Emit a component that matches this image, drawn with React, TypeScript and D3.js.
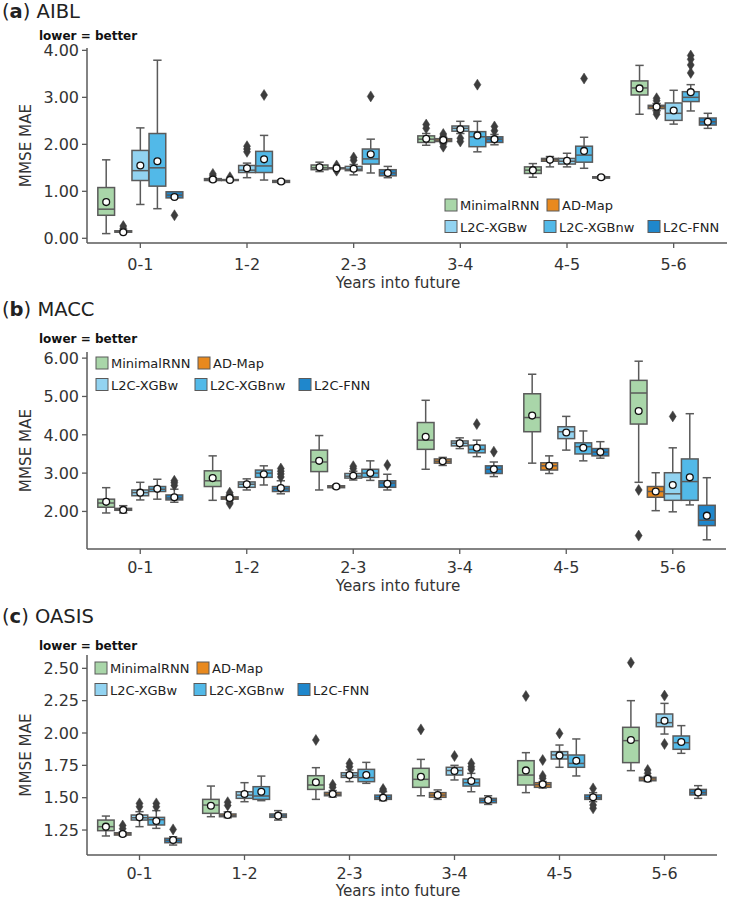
import React from "react";
import * as d3 from "d3";

// ---------- data ----------
const categories = ["0-1", "1-2", "2-3", "3-4", "4-5", "5-6"];
const methods = ["MinimalRNN", "AD-Map", "L2C-XGBw", "L2C-XGBnw", "L2C-FNN"];
const methodColors = ["#a9d6a9", "#e8891e", "#92d3f1", "#52b9e8", "#1f87cc"];

// each box: [whiskerLow, q1, median, q3, whiskerHigh, mean]
// ---- (a) AIBL ----
const aiblMinimalRNN = [[0.10, 0.49, 0.62, 1.08, 1.67, 0.77], [1.21, 1.23, 1.25, 1.27, 1.29, 1.25], [1.42, 1.46, 1.50, 1.56, 1.62, 1.51], [1.98, 2.04, 2.11, 2.18, 2.23, 2.12], [1.30, 1.38, 1.45, 1.52, 1.59, 1.45], [2.64, 3.05, 3.20, 3.35, 3.68, 3.19]];
const aiblADMap = [[0.12, 0.13, 0.14, 0.16, 0.17, 0.13], [1.22, 1.23, 1.24, 1.25, 1.26, 1.24], [1.47, 1.48, 1.49, 1.50, 1.51, 1.49], [2.04, 2.06, 2.09, 2.12, 2.14, 2.09], [1.52, 1.64, 1.67, 1.70, 1.74, 1.67], [2.72, 2.76, 2.80, 2.83, 2.87, 2.80]];
const aiblXGBw = [[0.72, 1.23, 1.44, 1.87, 2.35, 1.55], [1.29, 1.40, 1.45, 1.55, 1.60, 1.49], [1.35, 1.44, 1.47, 1.53, 1.57, 1.48], [2.23, 2.28, 2.34, 2.39, 2.49, 2.32], [1.52, 1.58, 1.64, 1.70, 1.81, 1.65], [2.43, 2.51, 2.66, 2.88, 3.15, 2.72]];
const aiblXGBnw = [[0.63, 1.11, 1.50, 2.23, 3.79, 1.64], [1.24, 1.40, 1.54, 1.85, 2.19, 1.68], [1.39, 1.58, 1.69, 1.90, 2.11, 1.79], [1.84, 1.95, 2.16, 2.27, 2.49, 2.19], [1.49, 1.62, 1.77, 1.96, 2.15, 1.86], [2.71, 2.91, 3.00, 3.12, 3.27, 3.11]];
const aiblFNN = [[0.86, 0.86, 0.92, 0.99, 0.99, 0.88], [1.17, 1.19, 1.21, 1.23, 1.24, 1.21], [1.29, 1.33, 1.39, 1.46, 1.53, 1.39], [1.99, 2.04, 2.11, 2.16, 2.21, 2.11], [1.26, 1.28, 1.30, 1.31, 1.33, 1.30], [2.34, 2.41, 2.48, 2.56, 2.66, 2.48]];
const aiblOutMinimalRNN = [[], [1.33, 1.37], [], [2.34, 2.42], [], []];
const aiblOutADMap = [[0.21, 0.26], [1.30], [1.44, 1.55], [1.95, 2.01, 2.17, 2.22], [], [2.64, 2.69, 2.93, 2.98]];
const aiblOutXGBw = [[], [1.84, 1.90, 1.96], [1.66, 1.72], [2.06, 2.13], [], []];
const aiblOutXGBnw = [[], [3.05], [3.02], [3.27], [3.40], [3.52, 3.69, 3.81, 3.89]];
const aiblOutFNN = [[0.49], [], [], [2.29, 2.38], [], []];

// ---- (b) MACC ----
const maccMinimalRNN = [[1.96, 2.11, 2.22, 2.32, 2.62, 2.25], [2.29, 2.65, 2.80, 3.06, 3.45, 2.87], [2.56, 3.04, 3.29, 3.60, 3.98, 3.32], [3.10, 3.62, 3.86, 4.32, 4.90, 3.95], [3.26, 4.08, 4.45, 5.07, 5.58, 4.50], [2.76, 4.28, 5.09, 5.42, 5.92, 4.62]];
const maccADMap = [[1.96, 2.03, 2.05, 2.08, 2.15, 2.04], [2.30, 2.32, 2.35, 2.38, 2.40, 2.35], [2.60, 2.62, 2.64, 2.67, 2.69, 2.65], [3.20, 3.26, 3.31, 3.37, 3.41, 3.31], [2.99, 3.08, 3.19, 3.27, 3.45, 3.19], [2.02, 2.37, 2.52, 2.65, 3.01, 2.52]];
const maccXGBw = [[2.30, 2.41, 2.49, 2.56, 2.76, 2.49], [2.56, 2.63, 2.71, 2.77, 2.85, 2.71], [2.82, 2.87, 2.92, 2.99, 3.05, 2.93], [3.64, 3.71, 3.78, 3.84, 3.92, 3.78], [3.60, 3.90, 4.08, 4.21, 4.48, 4.06], [1.99, 2.29, 2.46, 3.01, 3.66, 2.69]];
const maccXGBnw = [[2.32, 2.52, 2.58, 2.65, 2.84, 2.59], [2.69, 2.89, 3.00, 3.08, 3.19, 2.97], [2.81, 2.89, 3.00, 3.10, 3.32, 3.00], [3.43, 3.53, 3.62, 3.73, 3.86, 3.66], [3.32, 3.50, 3.69, 3.79, 4.10, 3.66], [2.17, 2.29, 2.78, 3.37, 4.55, 2.89]];
const maccFNN = [[2.24, 2.30, 2.35, 2.43, 2.58, 2.37], [2.46, 2.52, 2.59, 2.65, 2.80, 2.61], [2.56, 2.63, 2.74, 2.80, 2.97, 2.72], [2.91, 2.99, 3.10, 3.19, 3.29, 3.10], [3.39, 3.45, 3.55, 3.64, 3.82, 3.55], [1.26, 1.63, 1.77, 2.16, 2.88, 1.89]];
const maccOutMinimalRNN = [[], [], [], [], [], [2.56, 1.37]];
const maccOutADMap = [[], [2.20, 2.24, 2.44, 2.49], [], [], [], []];
const maccOutXGBw = [[], [], [3.12, 3.18], [], [], [4.48]];
const maccOutXGBnw = [[], [], [], [4.28], [], []];
const maccOutFNN = [[2.68, 2.75, 2.80], [2.90, 2.98, 3.05, 3.12], [3.21], [3.56], [], []];

// ---- (c) OASIS ----
const oasisMinimalRNN = [[1.204, 1.245, 1.276, 1.327, 1.358, 1.276], [1.353, 1.379, 1.443, 1.487, 1.590, 1.438], [1.487, 1.564, 1.598, 1.670, 1.732, 1.619], [1.515, 1.580, 1.642, 1.727, 1.796, 1.662], [1.539, 1.598, 1.675, 1.786, 1.848, 1.711], [1.709, 1.771, 1.941, 2.044, 2.250, 1.946]];
const oasisADMap = [[1.205, 1.211, 1.220, 1.229, 1.235, 1.219], [1.345, 1.353, 1.363, 1.374, 1.390, 1.366], [1.505, 1.515, 1.527, 1.541, 1.555, 1.528], [1.487, 1.503, 1.520, 1.539, 1.560, 1.521], [1.575, 1.580, 1.600, 1.616, 1.625, 1.603], [1.625, 1.631, 1.645, 1.657, 1.665, 1.647]];
const oasisXGBw = [[1.276, 1.327, 1.345, 1.366, 1.392, 1.348], [1.469, 1.495, 1.520, 1.546, 1.616, 1.528], [1.624, 1.657, 1.672, 1.693, 1.714, 1.675], [1.637, 1.675, 1.710, 1.735, 1.750, 1.706], [1.735, 1.799, 1.830, 1.856, 1.907, 1.827], [1.992, 2.049, 2.080, 2.147, 2.229, 2.095]];
const oasisXGBnw = [[1.263, 1.289, 1.330, 1.348, 1.400, 1.320], [1.477, 1.487, 1.513, 1.585, 1.667, 1.546], [1.611, 1.624, 1.655, 1.719, 1.773, 1.675], [1.546, 1.590, 1.616, 1.644, 1.688, 1.629], [1.668, 1.735, 1.765, 1.830, 1.954, 1.786], [1.843, 1.874, 1.925, 1.977, 2.057, 1.930]];
const oasisFNN = [[1.134, 1.152, 1.170, 1.186, 1.198, 1.173], [1.327, 1.348, 1.360, 1.374, 1.400, 1.361], [1.477, 1.487, 1.500, 1.520, 1.546, 1.500], [1.448, 1.461, 1.480, 1.495, 1.515, 1.482], [1.469, 1.487, 1.500, 1.521, 1.539, 1.503], [1.495, 1.521, 1.540, 1.564, 1.593, 1.541]];
const oasisOutMinimalRNN = [[], [], [1.946], [2.028], [2.286], [2.544]];
const oasisOutADMap = [[1.26, 1.285], [1.44, 1.465], [1.58, 1.60], [], [1.65, 1.668, 1.791], [1.688, 1.714]];
const oasisOutXGBw = [[1.43, 1.456], [], [1.74, 1.765], [1.822], [1.997], [1.915, 2.289]];
const oasisOutXGBnw = [[1.43, 1.456], [], [], [1.72, 1.74, 1.765], [], []];
const oasisOutFNN = [[1.255], [], [1.555, 1.567], [], [1.418, 1.443, 1.572], []];

const aiblTicks = [0, 1, 2, 3, 4];
const maccTicks = [2, 3, 4, 5, 6];
const oasisTicks = [1.25, 1.5, 1.75, 2.0, 2.25, 2.5];

// ---------- layout ----------
const FONT = "'DejaVu Sans', sans-serif";
const LINE = "#5a5a5a";

type PanelCfg = {
  letter: string;
  name: string;
  boxes: number[][][];
  outliers: number[][][];
  ticks: number[];
  domain: [number, number];
  top: number;
  bottom: number;
  left: number;
  right: number;
  titleY: number;
  noteY: number;
  tickLabelY: number;
  xLabelY: number;
  legendX: number;
  legendY: number;
};

const panels: PanelCfg[] = [
  {
    letter: "a", name: "AIBL",
    boxes: [aiblMinimalRNN, aiblADMap, aiblXGBw, aiblXGBnw, aiblFNN],
    outliers: [aiblOutMinimalRNN, aiblOutADMap, aiblOutXGBw, aiblOutXGBnw, aiblOutFNN],
    ticks: aiblTicks, domain: [-0.1, 4.05],
    top: 48, bottom: 243, left: 87, right: 727,
    titleY: 18, noteY: 40, tickLabelY: 270, xLabelY: 288,
    legendX: 445, legendY: 199,
  },
  {
    letter: "b", name: "MACC",
    boxes: [maccMinimalRNN, maccADMap, maccXGBw, maccXGBnw, maccFNN],
    outliers: [maccOutMinimalRNN, maccOutADMap, maccOutXGBw, maccOutXGBnw, maccOutFNN],
    ticks: maccTicks, domain: [1.02, 6.16],
    top: 352, bottom: 549, left: 87, right: 726,
    titleY: 316, noteY: 343, tickLabelY: 573, xLabelY: 591,
    legendX: 96, legendY: 357,
  },
  {
    letter: "c", name: "OASIS",
    boxes: [oasisMinimalRNN, oasisADMap, oasisXGBw, oasisXGBnw, oasisFNN],
    outliers: [oasisOutMinimalRNN, oasisOutADMap, oasisOutXGBw, oasisOutXGBnw, oasisOutFNN],
    ticks: oasisTicks, domain: [1.057, 2.603],
    top: 655, bottom: 855, left: 87, right: 717,
    titleY: 623, noteY: 650, tickLabelY: 879, xLabelY: 896,
    legendX: 95, legendY: 662,
  },
];

const legendRows = [[0, 1], [2, 3, 4]];
const legendOffsets = [[0, 102], [0, 99, 203]];

function Panel({ cfg }: { cfg: PanelCfg }) {
  const x = d3.scaleBand<string>().domain(categories).range([cfg.left, cfg.right]).padding(0);
  const y = d3.scaleLinear().domain(cfg.domain).range([cfg.bottom, cfg.top]);
  const bw = x.bandwidth();
  const hueW = (bw * 0.8) / methods.length;
  const boxW = hueW * 0.98;
  const capW = boxW * 0.5;
  const diamond = "M0,-5.5L3.5,0L0,5.5L-3.5,0Z";

  return (
    <g>
      <text x={2} y={cfg.titleY} fontFamily={FONT} fontSize={19.5} fill="#222">
        <tspan>(</tspan>
        <tspan fontWeight="bold">{cfg.letter}</tspan>
        <tspan>) {cfg.name}</tspan>
      </text>
      <text x={39} y={cfg.noteY} fontFamily={FONT} fontSize={12} fontWeight="bold" fill="#111">
        lower = better
      </text>

      {/* axes */}
      <line x1={cfg.left} x2={cfg.left} y1={cfg.top} y2={cfg.bottom} stroke={LINE} strokeWidth={1.5} />
      <line x1={cfg.left} x2={cfg.right} y1={cfg.bottom} y2={cfg.bottom} stroke={LINE} strokeWidth={1.5} />
      {cfg.ticks.map((t) => (
        <g key={t}>
          <line x1={cfg.left - 5} x2={cfg.left} y1={y(t)} y2={y(t)} stroke={LINE} strokeWidth={1.3} />
          <text x={cfg.left - 8} y={y(t)} dy="0.36em" textAnchor="end" fontFamily={FONT} fontSize={16} fill="#333">
            {d3.format(".2f")(t)}
          </text>
        </g>
      ))}
      {categories.map((c) => {
        const cx = (x(c) as number) + bw / 2;
        return (
          <g key={c}>
            <line x1={cx} x2={cx} y1={cfg.bottom} y2={cfg.bottom + 5} stroke={LINE} strokeWidth={1.3} />
            <text x={cx} y={cfg.tickLabelY} textAnchor="middle" fontFamily={FONT} fontSize={16} fill="#333">
              {c}
            </text>
          </g>
        );
      })}
      <text x={398} y={cfg.xLabelY} textAnchor="middle" fontFamily={FONT} fontSize={15.2} fill="#333">
        Years into future
      </text>
      <text
        transform={`translate(31,${(cfg.top + cfg.bottom) / 2}) rotate(-90)`}
        textAnchor="middle"
        fontFamily={FONT}
        fontSize={15.2}
        fill="#333"
      >
        MMSE MAE
      </text>

      {/* boxes */}
      {methods.map((m, mi) =>
        categories.map((c, ci) => {
          const [lo, q1, med, q3, hi, mean] = cfg.boxes[mi][ci];
          const cx = (x(c) as number) + bw * 0.1 + hueW * (mi + 0.5);
          const outs = cfg.outliers[mi][ci];
          return (
            <g key={m + c}>
              <line x1={cx} x2={cx} y1={y(q3)} y2={y(hi)} stroke={LINE} strokeWidth={1.5} />
              <line x1={cx} x2={cx} y1={y(q1)} y2={y(lo)} stroke={LINE} strokeWidth={1.5} />
              <line x1={cx - capW / 2} x2={cx + capW / 2} y1={y(hi)} y2={y(hi)} stroke={LINE} strokeWidth={1.5} />
              <line x1={cx - capW / 2} x2={cx + capW / 2} y1={y(lo)} y2={y(lo)} stroke={LINE} strokeWidth={1.5} />
              <rect
                x={cx - boxW / 2}
                y={y(q3)}
                width={boxW}
                height={Math.max(y(q1) - y(q3), 0.5)}
                fill={methodColors[mi]}
                stroke={LINE}
                strokeWidth={1.5}
              />
              <line x1={cx - boxW / 2} x2={cx + boxW / 2} y1={y(med)} y2={y(med)} stroke={LINE} strokeWidth={1.5} />
              {outs.map((o, oi) => (
                <path key={oi} d={diamond} transform={`translate(${cx},${y(o)})`} fill="#3d3d3d" stroke="#3d3d3d" strokeWidth={0.5} />
              ))}
              <circle cx={cx} cy={y(mean)} r={3.4} fill="#fff" stroke="#111" strokeWidth={1.3} />
            </g>
          );
        })
      )}

      {/* legend */}
      {legendRows.map((row, ri) =>
        row.map((mi, k) => {
          const lx = cfg.legendX + legendOffsets[ri][k];
          const ly = cfg.legendY + ri * 21.5;
          return (
            <g key={`leg${mi}`}>
              <rect x={lx} y={ly} width={12} height={12} fill={methodColors[mi]} stroke={LINE} strokeWidth={1} />
              <text x={lx + 15} y={ly + 11} fontFamily={FONT} fontSize={13} fill="#222">
                {methods[mi]}
              </text>
            </g>
          );
        })
      )}
    </g>
  );
}

export default function App() {
  return (
    <svg width={729} height={899} style={{ position: "absolute", left: 0, top: 0, background: "#fff" }}>
      <rect x={0} y={0} width={729} height={899} fill="#fff" />
      {panels.map((p) => (
        <Panel key={p.letter} cfg={p} />
      ))}
    </svg>
  );
}
